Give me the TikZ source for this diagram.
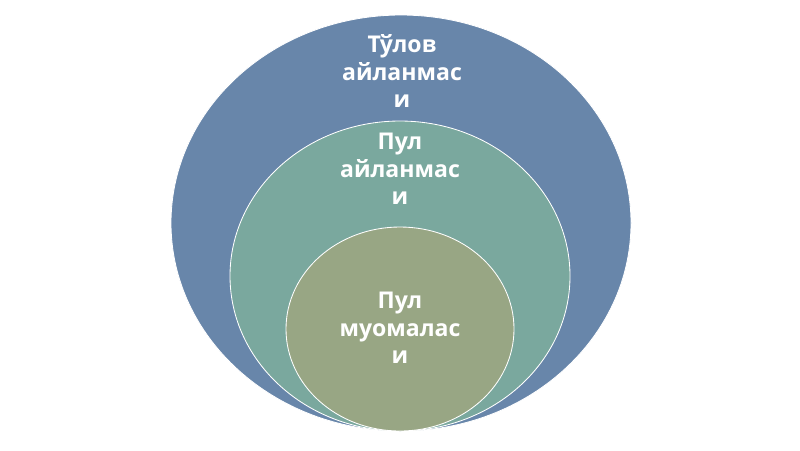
\documentclass[tikz,border=0pt]{standalone}
\usepackage{fontspec}
\setmainfont{Open Sans}
\usepackage{xcolor}
\definecolor{outerblue}{RGB}{104,134,170}
\definecolor{midteal}{RGB}{122,168,158}
\definecolor{innerolive}{RGB}{152,166,132}

\begin{document}
\begin{tikzpicture}[x=0.025cm, y=-0.025cm,
    ring/.style={draw=white, line width=0.6pt},
    label/.style={text=white, align=center, font=\bfseries\fontsize{16.4}{19.4}\selectfont}]

    % Frame
    \useasboundingbox (0, 0) rectangle (800, 450);

    % Nested circles (touching at the bottom)
    \filldraw[ring, fill=outerblue] (401, 223) ellipse [x radius=230, y radius=208];
    \filldraw[ring, fill=midteal] (400, 276) ellipse [x radius=170, y radius=155];
    \filldraw[ring, fill=innerolive] (400, 329) ellipse [x radius=114, y radius=102];

    % Labels
    \node[label] (tulov) at (402, 71) {Тўлов\\айланмас\\и};
    \node[label] (pul) at (400, 169) {Пул\\айланмас\\и};
    \node[label] (muomala) at (400, 328) {Пул\\муомалас\\и};

\end{tikzpicture}
\end{document}
